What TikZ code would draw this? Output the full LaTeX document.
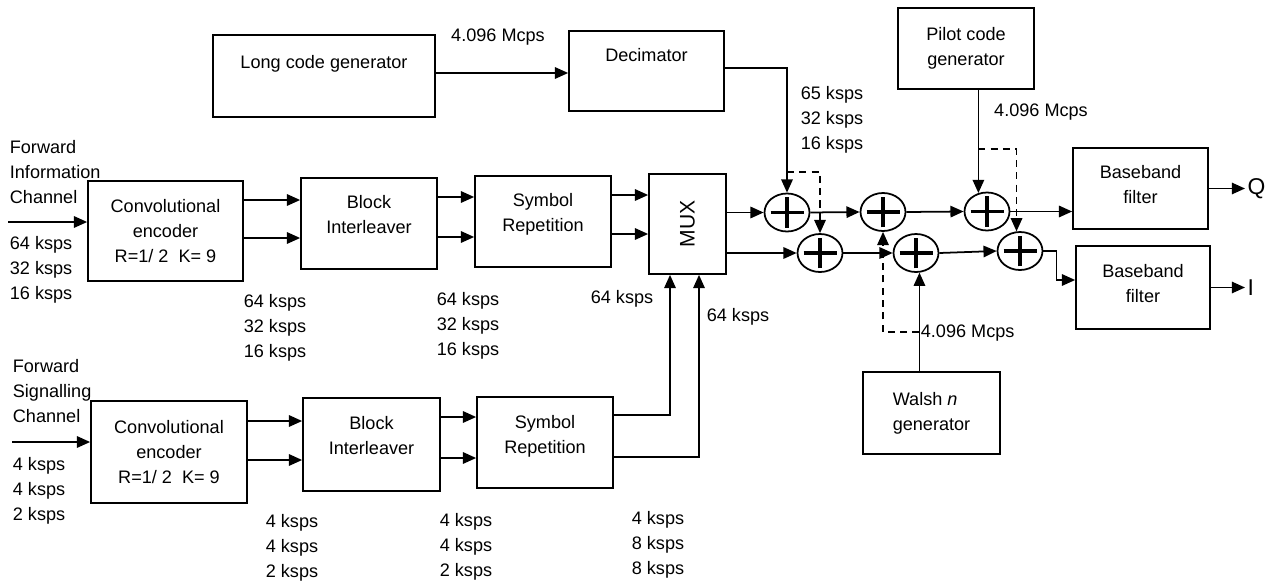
\documentclass[tikz,border=0pt]{standalone}
\usepackage{fontspec}
\setmainfont{Liberation Sans}
\usetikzlibrary{shapes.geometric, arrows.meta, positioning}

\begin{document}
\begin{tikzpicture}[x=0.02cm, y=-0.02cm, line width=1pt,
        font=\fontsize{10.3}{14.2}\selectfont,
        blk/.style={draw, align=center, inner sep=2pt},
        sum/.style={draw, ellipse, minimum width=0.9cm, minimum height=0.76cm, inner sep=0pt,
          path picture={\draw[line width=1.8pt] (path picture bounding box.center) +(-0.33cm,0) -- +(0.33cm,0)
            (path picture bounding box.center) +(0,-0.31cm) -- +(0,0.31cm);}},
        flow/.style={-{Triangle[length=7.5pt, width=6.5pt]}},
        ctl/.style={-{Triangle[length=7.5pt, width=6.5pt]}, dash pattern=on 4pt off 3pt},
        rate/.style={align=center, inner sep=0pt},
        tag/.style={align=left, inner sep=0pt, anchor=west},
        big/.style={font=\fontsize{13}{15}\selectfont, inner sep=1pt, anchor=west}]
        \useasboundingbox (0,0) rectangle (1274,588);
        % code generators
        \node[blk, minimum width=4.44cm, minimum height=1.64cm, text depth=0.56cm] (lcg) at (324,76) {Long code generator};
        \node[blk, minimum width=3.1cm, minimum height=1.6cm, text depth=0.64cm] (dec) at (646.5,71) {Decimator};
        \node[blk, minimum width=2.72cm, minimum height=1.62cm] (pcg) at (966,48.5) {Pilot code\\generator};
        \node[blk, align=left, minimum width=2.74cm, minimum height=1.64cm] (wal) at (931.5,413) {Walsh \textit{n}\\generator};
        % information channel
        \node[blk, minimum width=3.1cm, minimum height=2cm] (enc1) at (165.5,231) {Convolutional\\encoder\\R=1/ 2\ \ K= 9};
        \node[blk, minimum width=2.72cm, minimum height=1.82cm, text depth=0.36cm] (bi1) at (369,223.5) {Block\\Interleaver};
        \node[blk, minimum width=2.72cm, minimum height=1.82cm, text depth=0.36cm] (sr1) at (543,221.5) {Symbol\\Repetition};
        \node[blk, minimum width=1.54cm, minimum height=2cm, font=\fontsize{12}{14}\selectfont] (mux) at (687.5,224) {\rotatebox{90}{MUX}};
        % signalling channel
        \node[blk, minimum width=3.12cm, minimum height=2.04cm] (enc2) at (169,452) {Convolutional\\encoder\\R=1/ 2\ \ K= 9};
        \node[blk, minimum width=2.74cm, minimum height=1.86cm, text depth=0.36cm] (bi2) at (371.5,444.5) {Block\\Interleaver};
        \node[blk, minimum width=2.72cm, minimum height=1.82cm, text depth=0.32cm] (sr2) at (545,442.5) {Symbol\\Repetition};
        % adders
        \node[sum] (a1) at (787,212.5) {};
        \node[sum] (a2) at (820,253) {};
        \node[sum] (a3) at (883,212) {};
        \node[sum] (a4) at (916,253) {};
        \node[sum] (a5) at (987,211.5) {};
        \node[sum] (a6) at (1020,251) {};
        % filters
        \node[blk, minimum width=2.7cm, minimum height=1.62cm, text depth=0.16cm] (bbq) at (1140.5,188.5) {Baseband\\filter};
        \node[blk, minimum width=2.68cm, minimum height=1.66cm, text depth=0.16cm] (bbi) at (1143,287.5) {Baseband\\filter};
        \node[big] (qo) at (1245,188.5) {Q};
        \node[big] (io) at (1245,287.5) {I};
        % labels
        \node[tag] (fic) at (9,172) {Forward\\Information\\Channel};
        \node[tag] (ficr) at (9,270) {64 ksps\\32 ksps\\16 ksps};
        \node[tag] (fsc) at (12,391) {Forward\\Signalling\\Channel};
        \node[tag] (fscr) at (12,491) {4 ksps\\4 ksps\\2 ksps};
        \node[rate] (r1) at (275,328) {64 ksps\\32 ksps\\16 ksps};
        \node[rate] (r2) at (468,326) {64 ksps\\32 ksps\\16 ksps};
        \node[rate] (r3) at (622,299) {64 ksps};
        \node[rate] (r4) at (738,317) {64 ksps};
        \node[rate] (r5) at (832,120) {65 ksps\\32 ksps\\16 ksps};
        \node[rate] (r6) at (292,548) {4 ksps\\4 ksps\\2 ksps};
        \node[rate] (r7) at (466,547) {4 ksps\\4 ksps\\2 ksps};
        \node[rate] (r8) at (658,545) {4 ksps\\8 ksps\\8 ksps};
        \node[rate] (c1) at (498,37) {4.096 Mcps};
        \node[rate] (c2) at (1041,112) {4.096 Mcps};
        \node[tag] (c3) at (920,333) {4.096 Mcps};
        % connectors
        \coordinate (fin) at (8,222);
        \coordinate (sin) at (12,442);
        \draw[flow] (lcg.east |- 0,73) -- (dec.west |- 0,73);
        \draw[flow] (dec.east |- 0,68) -| (a1.north);
        \draw[ctl] (a1.north |- 0,172) -| (a2.north);
        \draw[flow] (pcg.south -| a5.115) -- (a5.115);
        \draw[ctl] (a5.115 |- 0,149) -| (a6.100);
        \draw[flow] (a4.280 |- wal.north) -- (a4.280);
        \draw[ctl] (a4.280 |- 0,332) -| (a3.south);
        \draw[flow] (fin) -- (enc1.west |- fin);
        \draw[flow] (enc1.east |- 0,200) -- (bi1.west |- 0,200);
        \draw[flow] (enc1.east |- 0,238) -- (bi1.west |- 0,238);
        \draw[flow] (bi1.east |- 0,197) -- (sr1.west |- 0,197);
        \draw[flow] (bi1.east |- 0,237) -- (sr1.west |- 0,237);
        \draw[flow] (sr1.east |- 0,195) -- (mux.west |- 0,195);
        \draw[flow] (sr1.east |- 0,234) -- (mux.west |- 0,234);
        \draw[flow] (sin) -- (enc2.west |- sin);
        \draw[flow] (enc2.east |- 0,421) -- (bi2.west |- 0,421);
        \draw[flow] (enc2.east |- 0,460) -- (bi2.west |- 0,460);
        \draw[flow] (bi2.east |- 0,417) -- (sr2.west |- 0,417);
        \draw[flow] (bi2.east |- 0,458) -- (sr2.west |- 0,458);
        \draw[flow] (sr2.east |- 0,415) -| (mux.south -| 670,0);
        \draw[flow] (sr2.east |- 0,457) -| (mux.south -| 699,0);
        \draw[flow] (mux.east |- a1) -- (a1.west);
        \draw[flow] (mux.east |- a2) -- (a2.west);
        \draw[flow] (a1.east) -- (a3.west);
        \draw[flow] (a3.east) -- (a5.west);
        \draw[flow] (a5.east) -- (bbq.west |- a5.east);
        \draw[flow] (a2.east) -- (a4.west);
        \draw[flow] (a4.east) -- (a6.west);
        \draw[flow] (a6.east) -- ++(13,0) |- (bbi.west |- 0,280);
        \draw[flow] (bbq.east) -- (qo.west);
        \draw[flow] (bbi.east) -- (io.west);
\end{tikzpicture}
\end{document}
